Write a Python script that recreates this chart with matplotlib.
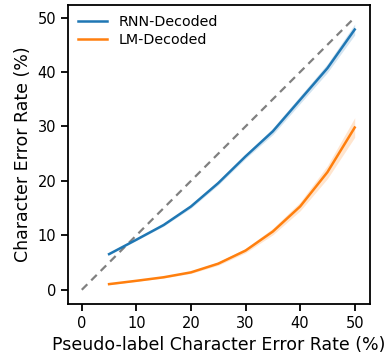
import matplotlib
matplotlib.use("Agg")
import matplotlib.pyplot as plt
import numpy as np

pseudo_cer = [5, 10, 15, 20, 25, 30, 35, 40, 45, 50]
rnn_cer = [6.55, 9.2, 11.9, 15.3, 19.6, 24.5, 29.1, 34.9, 40.7, 47.8]
rnn_ci = [0.1, 0.15, 0.2, 0.3, 0.35, 0.4, 0.6, 0.7, 0.8, 1.0]
lm_cer = [1.04, 1.65, 2.3, 3.2, 4.8, 7.2, 10.7, 15.3, 21.6, 29.8]
lm_ci = [0.1, 0.1, 0.15, 0.2, 0.3, 0.4, 0.6, 0.8, 1.2, 1.8]
diag = [0, 50]

fig = plt.figure(figsize=(3.85, 3.58), dpi=100)
ax = fig.add_axes([0.177, 0.151, 0.784, 0.835])

ax.plot(diag, diag, linestyle=(0, (3.5, 2.5)), color="gray", lw=1.6, zorder=1)
ax.plot(pseudo_cer, rnn_cer, color="tab:blue", lw=1.8, label="RNN-Decoded")
ax.fill_between(pseudo_cer, np.array(rnn_cer) - rnn_ci, np.array(rnn_cer) + rnn_ci,
                color="tab:blue", alpha=0.2, lw=0)
ax.plot(pseudo_cer, lm_cer, color="tab:orange", lw=1.8, label="LM-Decoded")
ax.fill_between(pseudo_cer, np.array(lm_cer) - lm_ci, np.array(lm_cer) + lm_ci,
                color="tab:orange", alpha=0.2, lw=0)

ax.set_xlim(-2.5, 52.8)
ax.set_ylim(-2.6, 52.3)
ax.set_xticks([0, 10, 20, 30, 40, 50])
ax.set_yticks([0, 10, 20, 30, 40, 50])
ax.tick_params(labelsize=10.5, width=1.3, length=5)
for s in ax.spines.values():
    s.set_linewidth(1.3)
ax.set_xlabel("Pseudo-label Character Error Rate (%)", fontsize=12.5)
ax.set_ylabel("Character Error Rate (%)", fontsize=12.5)
ax.legend(loc="upper left", frameon=False, fontsize=10.3, labelspacing=0.3,
          borderaxespad=0.3)

fig.savefig("out.png", dpi=100)
